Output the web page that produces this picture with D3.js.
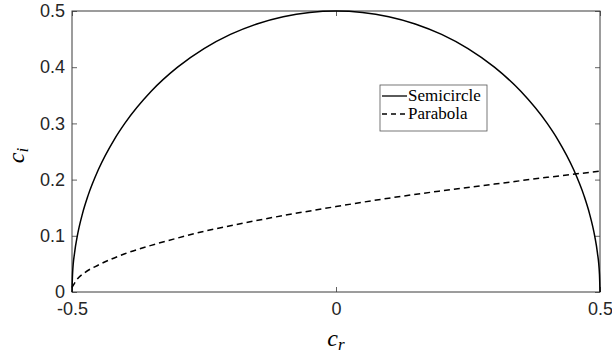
<!DOCTYPE html>
<html>
<head>
<meta charset="utf-8">
<script src="https://cdn.jsdelivr.net/npm/d3@7"></script>
<style>
  body { margin: 0; background: #fff; }
  svg { display: block; }
  .tick text { font-family: "Liberation Sans", Arial, sans-serif; font-size: 18px; fill: #262626; }
</style>
</head>
<body>
<div id="chart"></div>
<script>
// semicircle points
const semiX = [-0.5, -0.499, -0.495, -0.49, -0.48, -0.47, -0.45, -0.42, -0.4, -0.35, -0.3, -0.25, -0.2, -0.15, -0.1, -0.05, 0,
  0.05, 0.1, 0.15, 0.2, 0.25, 0.3, 0.35, 0.4, 0.42, 0.45, 0.47, 0.48, 0.49, 0.495, 0.499, 0.5];
const semiY = [0, 0.0316, 0.0705, 0.0995, 0.14, 0.1706, 0.2179, 0.2713, 0.3, 0.3571, 0.4, 0.433, 0.4583, 0.477, 0.4899, 0.4975, 0.5,
  0.4975, 0.4899, 0.477, 0.4583, 0.433, 0.4, 0.3571, 0.3, 0.2713, 0.2179, 0.1706, 0.14, 0.0995, 0.0705, 0.0316, 0];

// parabola (dashed)
const paraX = [-0.5, -0.49, -0.475, -0.45, -0.4, -0.35, -0.3, -0.25, -0.2, -0.1, 0, 0.1, 0.2, 0.3, 0.4, 0.5];
const paraY = [0.008, 0.023, 0.035, 0.048, 0.068, 0.083, 0.096, 0.108, 0.118, 0.136, 0.152, 0.167, 0.18, 0.192, 0.204, 0.215];

const xTicks = [-0.5, 0, 0.5];
const yTicks = [0, 0.1, 0.2, 0.3, 0.4, 0.5];
const seriesNames = ['Semicircle', 'Parabola'];

const width = 612, height = 356;
const margin = { top: 11, right: 12, bottom: 64, left: 72 };
const iw = width - margin.left - margin.right;
const ih = height - margin.top - margin.bottom;

const svg = d3.select('#chart').append('svg')
  .attr('width', width)
  .attr('height', height);

const g = svg.append('g')
  .attr('transform', `translate(${margin.left},${margin.top})`);

const x = d3.scaleLinear().domain([-0.5, 0.5]).range([0, iw]);
const y = d3.scaleLinear().domain([0, 0.5]).range([ih, 0]);

// matlab style labels, plain hyphen for minus
const fmt = d => d === 0 ? '0' : d3.format('.1f')(d).replace('\u2212', '-');
const axisCol = '#3a3a3a';

function styleAxis(sel, hideText) {
  sel.select('.domain').remove();
  sel.selectAll('.tick line').attr('stroke', axisCol).attr('stroke-width', 0.8);
  if (hideText) sel.selectAll('.tick text').remove();
}

g.append('g')
  .attr('transform', `translate(0,${ih})`)
  .call(d3.axisBottom(x).tickValues(xTicks).tickFormat(fmt).tickSizeInner(-5).tickSizeOuter(0).tickPadding(10))
  .call(s => styleAxis(s, false));
g.append('g')
  .call(d3.axisTop(x).tickValues(xTicks).tickSizeInner(-5).tickSizeOuter(0))
  .call(s => styleAxis(s, true));
g.append('g')
  .call(d3.axisLeft(y).tickValues(yTicks).tickFormat(fmt).tickSizeInner(-5).tickSizeOuter(0).tickPadding(7))
  .call(s => styleAxis(s, false));
g.append('g')
  .attr('transform', `translate(${iw},0)`)
  .call(d3.axisRight(y).tickValues(yTicks).tickSizeInner(-5).tickSizeOuter(0))
  .call(s => styleAxis(s, true));

g.append('rect')
  .attr('x', 0).attr('y', 0)
  .attr('width', iw).attr('height', ih)
  .attr('fill', 'none')
  .attr('stroke', axisCol)
  .attr('stroke-width', 1);

const line = d3.line()
  .x(d => x(d[0]))
  .y(d => y(d[1]))
  .curve(d3.curveMonotoneX);

g.append('path')
  .datum(semiX.map((v, i) => [v, semiY[i]]))
  .attr('d', line)
  .attr('fill', 'none')
  .attr('stroke', '#000')
  .attr('stroke-width', 1.5);

g.append('path')
  .datum(paraX.map((v, i) => [v, paraY[i]]))
  .attr('d', line)
  .attr('fill', 'none')
  .attr('stroke', '#000')
  .attr('stroke-width', 1.5)
  .attr('stroke-dasharray', '6,4');

// axis labels
svg.append('text')
  .attr('x', margin.left + iw / 2)
  .attr('y', 346)
  .attr('text-anchor', 'middle')
  .style('font-family', '"Liberation Serif", "DejaVu Serif", serif')
  .style('font-style', 'italic')
  .style('font-size', '24px')
  .html('c<tspan dy="4" font-size="17px">r</tspan>');

svg.append('text')
  .attr('transform', `translate(24,${margin.top + ih / 2 + 4}) rotate(-90)`)
  .attr('text-anchor', 'middle')
  .style('font-family', '"Liberation Serif", "DejaVu Serif", serif')
  .style('font-style', 'italic')
  .style('font-size', '24px')
  .html('c<tspan dy="4" font-size="17px">i</tspan>');

// legend
const leg = svg.append('g').attr('transform', 'translate(380,85)');
leg.append('rect')
  .attr('width', 107).attr('height', 46)
  .attr('fill', '#fff')
  .attr('stroke', '#555')
  .attr('stroke-width', 0.8);

const legItems = leg.selectAll('.item')
  .data(seriesNames)
  .enter().append('g')
    .attr('class', 'item')
    .attr('transform', (d, i) => `translate(0,${11 + i * 18})`);

legItems.append('line')
  .attr('x1', 2).attr('x2', 27)
  .attr('y1', 0).attr('y2', 0)
  .attr('stroke', '#000')
  .attr('stroke-width', 1.3)
  .attr('stroke-dasharray', (d, i) => i === 1 ? '5,4' : null);

legItems.append('text')
  .attr('x', 28)
  .attr('y', 5)
  .style('font-family', '"Liberation Serif", "DejaVu Serif", serif')
  .style('font-size', '17px')
  .text(d => d);
</script>
</body>
</html>
